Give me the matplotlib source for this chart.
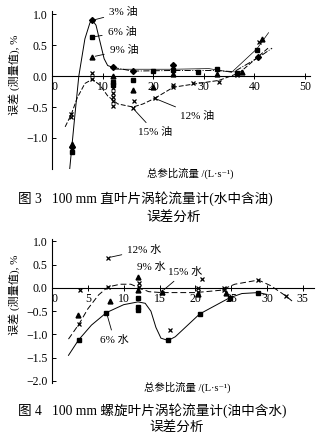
import matplotlib
matplotlib.use("Agg")
import matplotlib.pyplot as plt

plt.rcParams["font.family"] = ["Liberation Serif", "Noto Sans CJK SC", "DejaVu Serif"]

# ---- Fig 3: oil in water (markers) ----
oil3_x = [4.0, 8.0, 12.0, 16.0, 24.0, 40.8]
oil3_y = [-1.15, 0.90, 0.15, 0.08, 0.18, 0.30]
oil6_x = [4.0, 8.0, 12.0, 12.0, 16.0, 20.0, 24.0, 28.8, 32.6, 36.6, 40.5]
oil6_y = [-1.22, 0.63, -0.10, -0.15, -0.07, 0.08, 0.10, 0.06, 0.12, 0.05, 0.42]
oil9_x = [4.0, 8.0, 12.0, 16.0, 20.0, 24.0, 32.6, 37.5, 41.5]
oil9_y = [-1.10, 0.31, 0.00, -0.22, -0.18, 0.04, 0.04, 0.07, 0.60]
oil12_x = [3.8, 8.0, 12.0, 12.0, 16.3, 20.3, 24.0, 27.9, 33.0, 36.5, 41.0]
oil12_y = [-0.62, -0.05, -0.20, -0.27, -0.40, -0.36, -0.15, -0.12, -0.09, 0.02, 0.55]
oil15_x = [3.8, 8.0, 12.0, 12.0, 12.0, 16.0, 24.0]
oil15_y = [-0.66, 0.05, -0.34, -0.41, -0.48, -0.52, -0.18]

# ---- Fig 3: trend curves ----
c3a_x = [3.5, 4.5, 5.3, 6.5, 7.5, 8.0, 8.7, 9.5, 10.3, 11.0, 12.0]
c3a_y = [-1.50, -0.65, 0.00, 0.60, 0.86, 0.90, 0.82, 0.55, 0.28, 0.17, 0.14]
c3b_x = [12.0, 16.0, 24.0, 32.0, 36.0, 40.8, 43.5]
c3b_y = [0.14, 0.08, 0.09, 0.09, 0.07, 0.30, 0.45]
c6_x = [12.0, 16.0, 24.0, 31.0, 35.5, 40.5, 42.8]
c6_y = [0.11, 0.11, 0.11, 0.12, 0.06, 0.44, 0.70]
c15_x = [2.6, 3.8, 5.0, 6.5, 8.0, 9.5, 11.0, 13.0, 16.0, 18.0, 20.3]
c15_y = [-0.82, -0.62, -0.35, -0.12, -0.05, -0.15, -0.32, -0.45, -0.50, -0.45, -0.36]
c12_x = [20.3, 24.0, 28.0, 33.0, 37.0, 42.7]
c12_y = [-0.36, -0.18, -0.13, -0.07, 0.05, 0.45]

# ---- Fig 4: water in oil (markers) ----
w6_x = [3.7, 7.6, 12.0, 12.0, 12.0, 16.2, 20.6, 24.8, 28.8]
w6_y = [-1.12, -0.53, -0.22, -0.40, -0.48, -1.12, -0.56, -0.21, -0.10]
w9_x = [3.6, 8.1, 12.0, 12.0, 15.3, 20.3, 24.3]
w9_y = [-0.58, -0.28, 0.23, -0.05, -0.08, -0.12, -0.10]
w12_x = [3.9, 7.8, 12.2, 16.5, 20.3, 24.0, 28.8, 32.6]
w12_y = [-0.04, 0.65, 0.10, -0.90, 0.00, 0.00, 0.17, -0.17]
w15_x = [3.8, 7.8, 12.2, 15.3, 20.9, 20.3, 24.0]
w15_y = [-0.77, 0.02, 0.02, -0.10, 0.20, -0.08, -0.05]

cw6_x = [2.3, 3.7, 5.5, 7.6, 10.0, 12.0, 13.0, 13.8, 14.5, 15.2, 16.2, 17.2, 20.6, 24.8, 26.5, 28.8, 30.0]
cw6_y = [-1.45, -1.12, -0.80, -0.53, -0.36, -0.30, -0.33, -0.50, -0.85, -1.08, -1.13, -1.05, -0.56, -0.21, -0.12, -0.10, -0.14]
cw12_x = [2.3, 3.8, 5.0, 6.5, 7.8, 9.5, 11.0, 12.2, 13.5, 15.3, 20.0, 23.5, 25.5, 28.8, 30.5, 32.6, 33.8]
cw12_y = [-1.10, -0.77, -0.45, -0.15, 0.02, 0.08, 0.08, 0.00, -0.08, -0.10, -0.10, -0.05, 0.08, 0.17, 0.05, -0.17, -0.32]

ylabel = "误差 (测量值), %"
xlabel = "总参比流量 /(L·s\u207b\u00b9)"


def style_axes(ax, xmax, xstep, ymin, ymax, yticks):
    ax.set_xlim(0, xmax)
    ax.set_ylim(ymin, ymax)
    for s in ["top", "right"]:
        ax.spines[s].set_visible(False)
    ax.spines["bottom"].set_position(("data", 0))
    ax.spines["left"].set_linewidth(0.8)
    ax.spines["bottom"].set_linewidth(0.8)
    xt = list(range(0, int(xmax) + 1, xstep))
    ax.set_xticks(xt)
    ax.set_xticklabels([str(v) for v in xt], fontsize=8.5)
    ax.get_xticklabels()[0].set_ha("left")
    ax.set_yticks(yticks)
    ax.set_yticklabels([f"{v:.1f}".replace("-", "\u2212") for v in yticks], fontsize=8.5)
    ax.tick_params(axis="x", direction="inout", length=5, width=0.7, pad=1)
    ax.tick_params(axis="y", direction="in", length=3, width=0.7, pad=3)


fig = plt.figure(figsize=(3.25, 4.4), dpi=100)
kw = dict(color="black", linestyle="none", markersize=3.5)
lw = 0.7

# ---------------- Fig 3 ----------------
ax1 = fig.add_axes([0.16, 0.616, 0.794, 0.359])
style_axes(ax1, 51, 10, -1.5, 1.05, [1.0, 0.5, 0.0, -0.5, -1.0])
ax1.plot(c3a_x, c3a_y, color="black", lw=lw)
ax1.plot(c3b_x, c3b_y, color="black", lw=lw, linestyle="-.")
ax1.plot(c6_x, c6_y, color="black", lw=0.5)
ax1.plot(c15_x, c15_y, color="black", lw=lw, linestyle=(0, (5, 2)))
ax1.plot(c12_x, c12_y, color="black", lw=lw, linestyle=(0, (5, 2)))
ax1.plot(oil3_x, oil3_y, marker="D", markersize=3, color="black", linestyle="none")
ax1.plot(oil6_x, oil6_y, marker="s", markerfacecolor="black", markeredgecolor="black", **kw)
ax1.plot(oil9_x, oil9_y, marker="^", **kw)
ax1.plot(oil12_x, oil12_y, marker="x", markeredgewidth=0.9, **kw)
ax1.plot(oil15_x, oil15_y, marker="x", markeredgewidth=0.9, **kw)

ann = dict(arrowprops=dict(arrowstyle="-", lw=0.6, color="black"), fontsize=8, va="center", ha="left")
ax1.annotate("3% 油", xy=(8.0, 0.90), xytext=(11.3, 1.03), **ann)
ax1.annotate("6% 油", xy=(8.0, 0.63), xytext=(11.0, 0.71), **ann)
ax1.annotate("9% 油", xy=(8.0, 0.31), xytext=(11.4, 0.42), **ann)
ax1.annotate("12% 油", xy=(20.3, -0.36), xytext=(25.3, -0.64), **ann)
ax1.annotate("15% 油", xy=(16.0, -0.52), xytext=(17.0, -0.91), **ann)

fig.text(0.045, 0.83, ylabel, rotation=90, fontsize=8, ha="center", va="center")
fig.text(0.585, 0.607, xlabel, fontsize=7.5, ha="center", va="center")
fig.text(0.055, 0.549, "图 3   100 mm 直叶片涡轮流量计(水中含油)", fontsize=9.8, ha="left", va="center")
fig.text(0.535, 0.503, "误差分析", fontsize=9.8, ha="center", va="center")

# ---------------- Fig 4 ----------------
ax2 = fig.add_axes([0.16, 0.129, 0.805, 0.3275])
style_axes(ax2, 36.5, 5, -2.05, 1.05, [1.0, 0.5, 0.0, -0.5, -1.0, -1.5, -2.0])
ax2.plot(cw6_x, cw6_y, color="black", lw=lw)
ax2.plot(cw12_x, cw12_y, color="black", lw=lw, linestyle=(0, (6, 3)))
ax2.plot(w6_x, w6_y, marker="s", markerfacecolor="black", **kw)
ax2.plot(w9_x, w9_y, marker="^", **kw)
ax2.plot(w12_x, w12_y, marker="x", markeredgewidth=0.9, **kw)
ax2.plot(w15_x, w15_y, marker="x", markeredgewidth=0.9, **kw)

ax2.annotate("12% 水", xy=(7.8, 0.65), xytext=(10.5, 0.82), **ann)
ax2.annotate("9% 水", xy=(12.0, 0.30), xytext=(11.9, 0.46), fontsize=8, va="center", ha="left")
ax2.annotate("15% 水", xy=(15.3, -0.08), xytext=(16.2, 0.35), **ann)
ax2.annotate("6% 水", xy=(7.6, -0.53), xytext=(6.7, -1.13), **ann)

fig.text(0.045, 0.33, ylabel, rotation=90, fontsize=8, ha="center", va="center")
fig.text(0.575, 0.12, xlabel, fontsize=7.5, ha="center", va="center")
fig.text(0.055, 0.066, "图 4   100 mm 螺旋叶片涡轮流量计(油中含水)", fontsize=9.8, ha="left", va="center")
fig.text(0.545, 0.027, "误差分析", fontsize=9.8, ha="center", va="center")

fig.savefig("out.png", dpi=100)
